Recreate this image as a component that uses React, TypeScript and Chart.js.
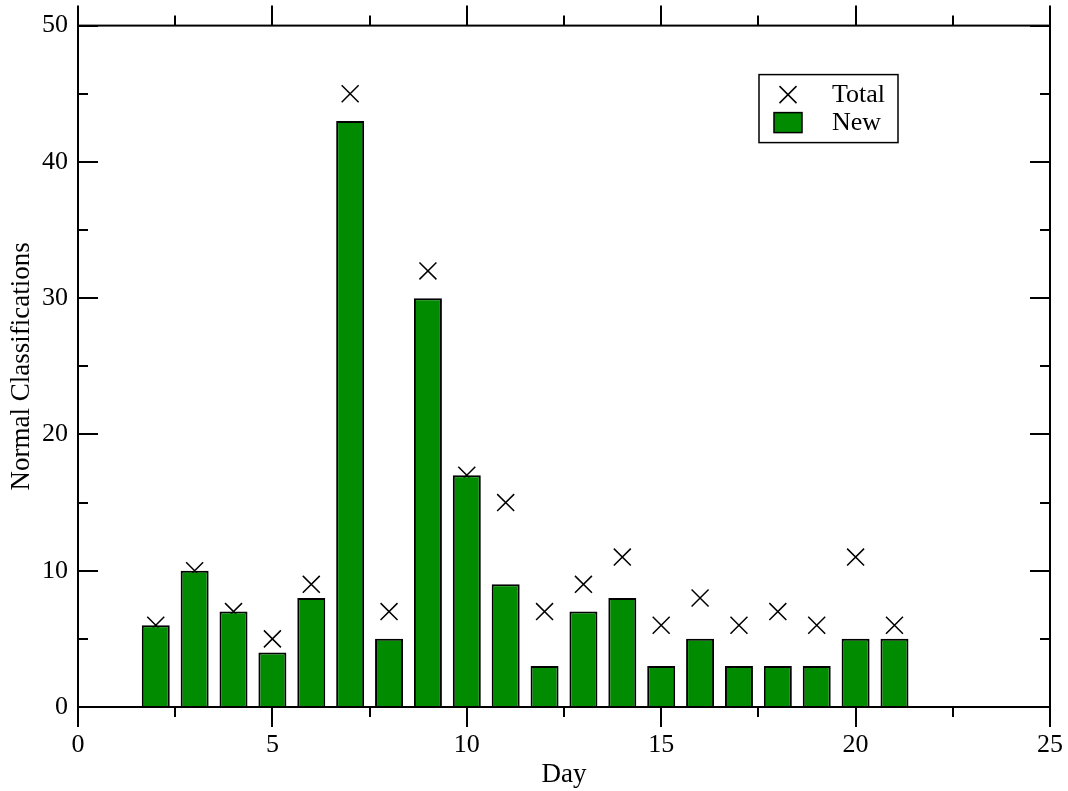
import React, { useEffect, useRef } from "react";
import { Chart, registerables } from "chart.js";

Chart.register(...registerables);

const days = [2, 3, 4, 5, 6, 7, 8, 9, 10, 11, 12, 13, 14, 15, 16, 17, 18, 19, 20, 21];
const newValues = [6, 10, 7, 4, 8, 43, 5, 30, 17, 9, 3, 7, 8, 3, 5, 3, 3, 3, 5, 5];
const totalValues = [6, 10, 7, 5, 9, 45, 7, 32, 17, 15, 7, 9, 11, 6, 8, 6, 7, 6, 11, 6];
const seriesLabels = ["Total", "New"];
const xTitle = "Day";
const yTitle = "Normal Classifications";
const xRange = [0, 25];
const yRange = [0, 50];
const xMajorStep = 5;
const yMajorStep = 10;

const FONT = "'Liberation Serif', 'Times New Roman', serif";
const GREEN = "#008b00";

const frameTicksPlugin = {
  id: "graceFrameTicks",
  afterDraw(chart: any) {
    const { ctx, chartArea } = chart;
    const { left, right, top, bottom } = chartArea;
    const xs = chart.scales.x;
    const ys = chart.scales.y;
    ctx.save();
    ctx.strokeStyle = "#000";
    ctx.lineWidth = 2;
    ctx.lineCap = "butt";
    ctx.strokeRect(left, top, right - left, bottom - top);
    const line = (x1: number, y1: number, x2: number, y2: number) => {
      ctx.beginPath();
      ctx.moveTo(x1, y1);
      ctx.lineTo(x2, y2);
      ctx.stroke();
    };
    const xMinor = xMajorStep / 2;
    for (let v = xs.min; v <= xs.max + 1e-9; v += xMinor) {
      const px = Math.round(xs.getPixelForValue(v));
      const major = Math.abs(v / xMajorStep - Math.round(v / xMajorStep)) < 1e-6;
      const len = major ? 20 : 10;
      line(px, bottom, px, bottom + len);
      line(px, top, px, top - len);
    }
    const yMinor = yMajorStep / 2;
    for (let v = ys.min; v <= ys.max + 1e-9; v += yMinor) {
      const py = Math.round(ys.getPixelForValue(v));
      const major = Math.abs(v / yMajorStep - Math.round(v / yMajorStep)) < 1e-6;
      const len = major ? 20 : 10;
      line(left, py, left + len, py);
      line(right, py, right - len, py);
    }
    ctx.restore();
  },
};

const legendPlugin = {
  id: "graceLegend",
  afterDraw(chart: any) {
    const { ctx, chartArea } = chart;
    const ds = chart.data.datasets;
    const bx = chartArea.left + 681;
    const by = chartArea.top + 49;
    const bw = 139;
    const bh = 68;
    ctx.save();
    ctx.fillStyle = "#fff";
    ctx.fillRect(bx, by, bw, bh);
    ctx.strokeStyle = "#000";
    ctx.lineWidth = 1.5;
    ctx.strokeRect(bx, by, bw, bh);
    const cx = bx + 29;
    const cy1 = by + 20;
    const h = 8.5;
    ctx.lineWidth = ds[0].borderWidth;
    ctx.strokeStyle = ds[0].borderColor;
    ctx.beginPath();
    ctx.moveTo(cx - h, cy1 - h);
    ctx.lineTo(cx + h, cy1 + h);
    ctx.moveTo(cx - h, cy1 + h);
    ctx.lineTo(cx + h, cy1 - h);
    ctx.stroke();
    const cy2 = by + 48;
    ctx.fillStyle = ds[1].backgroundColor;
    ctx.fillRect(bx + 15, cy2 - 10, 28, 20);
    ctx.lineWidth = 1.5;
    ctx.strokeStyle = ds[1].borderColor;
    ctx.strokeRect(bx + 15, cy2 - 10, 28, 20);
    ctx.fillStyle = "#000";
    ctx.font = `26px ${FONT}`;
    ctx.textAlign = "left";
    ctx.textBaseline = "middle";
    ctx.fillText(ds[0].label, bx + 73, cy1 + 1);
    ctx.fillText(ds[1].label, bx + 73, cy2 + 1);
    ctx.restore();
  },
};

export default function App() {
  const canvasRef = useRef<HTMLCanvasElement | null>(null);

  useEffect(() => {
    document.body.style.margin = "0";
    const canvas = canvasRef.current;
    if (!canvas) return;
    const chart = new Chart(canvas, {
      type: "bar",
      data: {
        datasets: [
          {
            type: "scatter",
            label: seriesLabels[0],
            data: days.map((d, i) => ({ x: d, y: totalValues[i] })),
            pointStyle: "crossRot",
            pointRadius: 12,
            pointHoverRadius: 12,
            borderColor: "#000",
            backgroundColor: "rgba(0,0,0,0)",
            borderWidth: 1.5,
            order: 2,
          } as any,
          {
            type: "bar",
            label: seriesLabels[1],
            data: days.map((d, i) => ({ x: d, y: newValues[i] })),
            backgroundColor: GREEN,
            borderColor: "#000",
            borderWidth: 2,
            barPercentage: 0.9,
            categoryPercentage: 0.8,
            order: 1,
          } as any,
        ],
      },
      options: {
        animation: false,
        responsive: false,
        devicePixelRatio: 1,
        layout: { padding: { top: 25, right: 0, left: 0, bottom: 0 } },
        plugins: {
          legend: { display: false },
          tooltip: { enabled: false },
        },
        scales: {
          x: {
            type: "linear",
            min: xRange[0],
            max: xRange[1],
            offset: false,
            position: "bottom",
            grid: { display: false, drawTicks: true, tickLength: 18, offset: false },
            border: { display: false },
            ticks: {
              stepSize: xMajorStep,
              padding: 5,
              maxRotation: 0,
              color: "#000",
              font: { family: FONT, size: 26 },
            },
            title: {
              display: true,
              text: xTitle,
              color: "#000",
              font: { family: FONT, size: 27 },
              padding: { top: 0, bottom: 0 },
            },
            afterFit(scale: any) {
              scale.height = 84;
            },
          },
          y: {
            type: "linear",
            min: yRange[0],
            max: yRange[1],
            position: "left",
            grid: { display: false, drawTicks: false },
            border: { display: false },
            ticks: {
              stepSize: yMajorStep,
              padding: 10,
              color: "#000",
              font: { family: FONT, size: 26 },
            },
            title: {
              display: true,
              text: yTitle,
              color: "#000",
              font: { family: FONT, size: 27 },
              padding: { top: 6, bottom: 0 },
            },
            afterFit(scale: any) {
              scale.width = 78;
            },
          },
          y2: {
            type: "linear",
            min: yRange[0],
            max: yRange[1],
            position: "right",
            grid: { display: false, drawTicks: false },
            border: { display: false },
            ticks: { display: false },
            afterFit(scale: any) {
              scale.width = 18;
            },
          },
        },
      } as any,
      plugins: [frameTicksPlugin, legendPlugin],
    });
    return () => chart.destroy();
  }, []);

  return (
    <div style={{ position: "absolute", left: 0, top: 0, width: 1068, height: 791, background: "#fff" }}>
      <canvas ref={canvasRef} width={1068} height={791} />
    </div>
  );
}
